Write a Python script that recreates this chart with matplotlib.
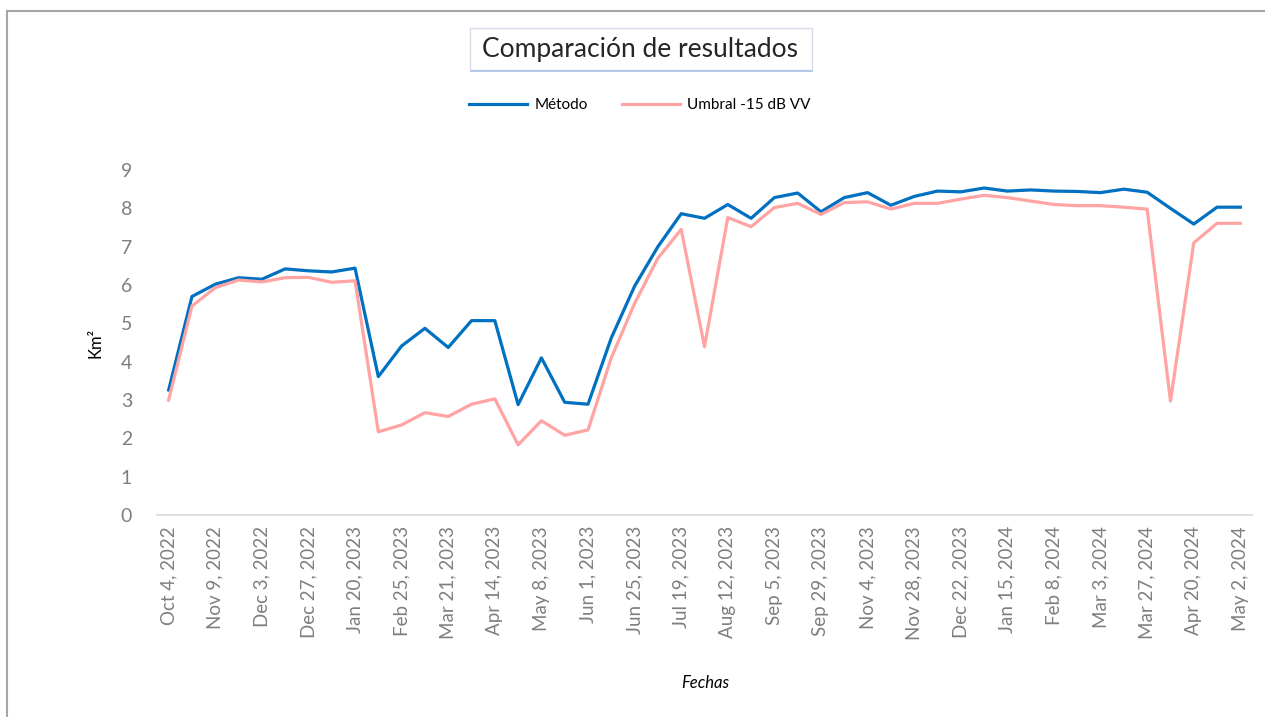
import matplotlib.pyplot as plt
from matplotlib.lines import Line2D
from matplotlib.patches import Rectangle

plt.rcParams["font.family"] = ["Lato", "DejaVu Sans"]

# acquisition dates (category axis, every second one labelled)
fechas = [
    "Oct 4, 2022", "Oct 16, 2022", "Nov 9, 2022", "Nov 21, 2022",
    "Dec 3, 2022", "Dec 15, 2022", "Dec 27, 2022", "Jan 8, 2023",
    "Jan 20, 2023", "Feb 13, 2023", "Feb 25, 2023", "Mar 9, 2023",
    "Mar 21, 2023", "Apr 2, 2023", "Apr 14, 2023", "Apr 26, 2023",
    "May 8, 2023", "May 20, 2023", "Jun 1, 2023", "Jun 13, 2023",
    "Jun 25, 2023", "Jul 7, 2023", "Jul 19, 2023", "Jul 31, 2023",
    "Aug 12, 2023", "Aug 24, 2023", "Sep 5, 2023", "Sep 17, 2023",
    "Sep 29, 2023", "Oct 11, 2023", "Nov 4, 2023", "Nov 16, 2023",
    "Nov 28, 2023", "Dec 10, 2023", "Dec 22, 2023", "Jan 3, 2024",
    "Jan 15, 2024", "Jan 27, 2024", "Feb 8, 2024", "Feb 20, 2024",
    "Mar 3, 2024", "Mar 15, 2024", "Mar 27, 2024", "Apr 8, 2024",
    "Apr 20, 2024", "Apr 26, 2024", "May 2, 2024",
]

# flooded area in km2
metodo = [
    3.26, 5.70, 6.02, 6.19, 6.15, 6.42, 6.37, 6.34, 6.44, 3.61,
    4.41, 4.87, 4.37, 5.07, 5.07, 2.88, 4.10, 2.94, 2.89, 4.62,
    5.97, 7.00, 7.86, 7.74, 8.10, 7.74, 8.28, 8.40, 7.91, 8.28,
    8.41, 8.08, 8.31, 8.45, 8.43, 8.53, 8.45, 8.48, 8.45, 8.44,
    8.41, 8.50, 8.42, 8.00, 7.59, 8.03, 8.03,
]
umbral = [
    3.00, 5.45, 5.93, 6.13, 6.08, 6.19, 6.20, 6.07, 6.11, 2.17,
    2.35, 2.67, 2.57, 2.89, 3.03, 1.83, 2.46, 2.08, 2.22, 4.10,
    5.52, 6.70, 7.45, 4.39, 7.76, 7.52, 8.02, 8.13, 7.84, 8.15,
    8.17, 7.98, 8.13, 8.13, 8.24, 8.34, 8.28, 8.19, 8.10, 8.07,
    8.07, 8.03, 7.98, 2.97, 7.10, 7.61, 7.61,
]

AZUL = "#0070C0"
ROSA = "#FFA3A3"
GRIS = "#7F7F7F"

W, H = 1265, 717
fig = plt.figure(figsize=(W / 100, H / 100), dpi=100)
ax = fig.add_axes([157 / W, 1 - 515 / H, 1095 / W, 345 / H])

x = list(range(len(fechas)))
ax.plot(x, metodo, color=AZUL, lw=2.3, label="Método", solid_joinstyle="round")
ax.plot(x, umbral, color=ROSA, lw=2.3, label="Umbral -15 dB VV", solid_joinstyle="round")

ax.set_xlim(-0.5, len(fechas) - 0.5)
ax.set_ylim(0, 9)
ax.set_yticks(range(0, 10))
ax.tick_params(axis="y", length=0, labelsize=14, labelcolor=GRIS, pad=18)
ax.set_xticks(x[::2])
ax.set_xticklabels(fechas[::2], rotation=90, fontsize=13.5, color=GRIS)
ax.tick_params(axis="x", length=0, pad=8)

for s in ("top", "right", "left"):
    ax.spines[s].set_visible(False)
ax.spines["bottom"].set_color("#D9D9D9")
ax.spines["bottom"].set_linewidth(1.2)

ax.set_ylabel("Km²", fontsize=12, color="black", labelpad=12)
fig.text(705 / W, 1 - 683 / H, "Fechas", fontsize=12, style="italic",
         ha="center", va="center")

# title with its framed box
fig.text(640 / W, 1 - 50 / H, "Comparación de resultados", fontsize=19,
         color="#262626", ha="center", va="center")
fig.patches.append(Rectangle((470 / W, 1 - 70 / H), 342 / W, 42 / H,
                             transform=fig.transFigure, fill=False,
                             edgecolor="#D6DCE8", lw=1.0))
fig.lines.append(Line2D([471 / W, 812 / W], [1 - 70.5 / H, 1 - 70.5 / H],
                        transform=fig.transFigure, color="#B4C7E7", lw=1.4))

fig.legend(loc="center", bbox_to_anchor=(640 / W, 1 - 105 / H), ncol=2, frameon=False,
           fontsize=11, handlelength=3.8, columnspacing=2.2, handletextpad=0.5)

# chart border: only the top and left edges fall inside the image
border = dict(transform=fig.transFigure, color="#A6A6A6", lw=1.5)
fig.lines.append(Line2D([7 / W, 1.0], [1 - 10.5 / H, 1 - 10.5 / H], **border))
fig.lines.append(Line2D([7 / W, 7 / W], [0.0, 1 - 10.5 / H], **border))

fig.savefig("out.png", dpi=100)
